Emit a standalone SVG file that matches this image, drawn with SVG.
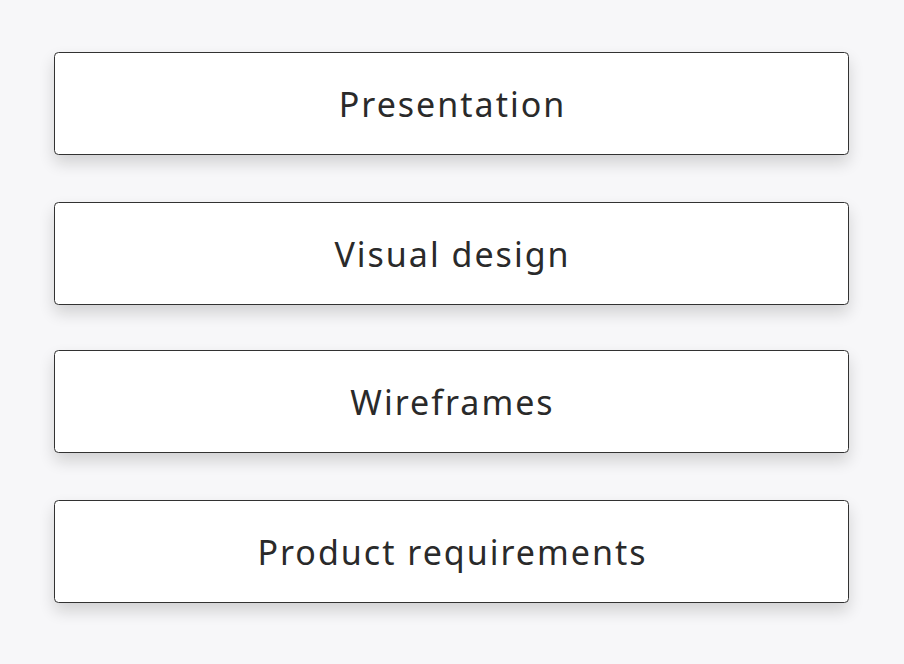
<svg xmlns="http://www.w3.org/2000/svg" width="904" height="664" viewBox="0 0 904 664">
<defs>
<filter id="sh" x="-10%" y="-30%" width="120%" height="180%">
<feGaussianBlur in="SourceAlpha" stdDeviation="8"/>
<feOffset dx="0" dy="8" result="b"/>
<feComponentTransfer><feFuncA type="linear" slope="0.16"/></feComponentTransfer>
<feMerge><feMergeNode/><feMergeNode in="SourceGraphic"/></feMerge>
</filter>
<style>
.box{fill:#ffffff;stroke:#333333;stroke-width:1;filter:url(#sh)}
.lbl{font-family:"Noto Sans","Liberation Sans",sans-serif;font-size:34px;fill:#2a2a2a;text-anchor:middle;dominant-baseline:central;letter-spacing:2px}
</style>
</defs>
<rect width="904" height="664" fill="#f7f7f9"/>
<g id="presentation"><rect class="box" x="54.5" y="52.5" width="794" height="102" rx="4"/><text class="lbl" x="452.5" y="104">Presentation</text></g>
<g id="visual-design"><rect class="box" x="54.5" y="202.5" width="794" height="102" rx="4"/><text class="lbl" x="452.5" y="254">Visual design</text></g>
<g id="wireframes"><rect class="box" x="54.5" y="350.5" width="794" height="102" rx="4"/><text class="lbl" x="452.5" y="402">Wireframes</text></g>
<g id="product-requirements"><rect class="box" x="54.5" y="500.5" width="794" height="102" rx="4"/><text class="lbl" x="452.5" y="552">Product requirements</text></g>
<g id="connectors"/>
</svg>
